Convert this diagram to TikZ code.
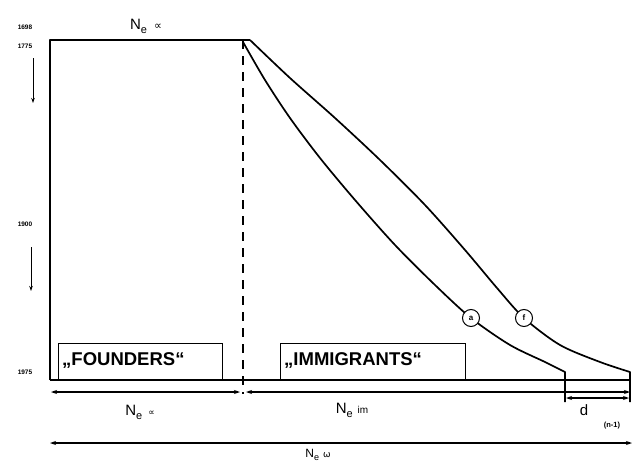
\documentclass[tikz,border=0pt]{standalone}
\usepackage{fontspec}
\setmainfont{Liberation Sans}
\newfontfamily\dvs{DejaVu Sans}
\usetikzlibrary{arrows.meta}
\begin{document}
\begin{tikzpicture}[x=1pt,y=-1pt,
  main/.style={line width=2pt, line join=round},
  curve/.style={line width=1.7pt, line join=round},
  boxline/.style={line width=1pt},
  dimarrow/.style={line width=1.3pt,{Stealth[length=6pt,width=4pt]}-{Stealth[length=6pt,width=4pt]}},
  yeararrow/.style={line width=0.9pt,-{Stealth[length=5pt,width=3.5pt]}},
  lbl/.style={font=\fontsize{15}{17}\selectfont, inner sep=0pt},
  boxtext/.style={font=\fontsize{18.5}{20}\selectfont\bfseries, inner sep=0pt, anchor=west},
  year/.style={font=\fontsize{6.5}{7}\selectfont\bfseries, inner sep=0pt},
  circmark/.style={circle, draw, fill=white, line width=1pt, minimum size=17pt, inner sep=0pt, font=\fontsize{8}{9}\selectfont\bfseries}]
\useasboundingbox (0,0) rectangle (632,463);
% corners
\coordinate (TL) at (50,40);
\coordinate (TR) at (250,40);
\coordinate (BL) at (50,380);
\coordinate (BR) at (630,380);
\coordinate (DT) at (243,40);
\coordinate (DB) at (243,394);
% frame
\draw[main] (BL) -- (TL) -- (TR);
\draw[main] (BL) -- (BR);
\draw[line width=1.2pt, dash pattern=on 9pt off 7pt] (DT) -- (DB);
% boxes
\draw[boxline] (58,380) -- (58,343) -- (222,343) -- (222,380);
\draw[boxline] (280,380) -- (280,343) -- (465,343) -- (465,380);
\node[boxtext] (fnd) at (62,360) {„FOUNDERS“};
\node[boxtext] (imm) at (284,360) {„IMMIGRANTS“};
% curves
\draw[curve] plot[smooth] coordinates {(243,42) (265,80) (290,118) (320,158) (355,200) (395,245) (435,285) (471,318) (510,345) (545,362) (565,372)} -- (565,402);
\draw[curve] plot[smooth] coordinates {(250,40) (290,78) (335,118) (380,160) (425,205) (465,250) (497,288) (524,318) (560,345) (600,362) (630,372)} -- (630,402);
\node[circmark] (ca) at (471,318) {a};
\node[circmark] (cf) at (524,318) {f};
% top label
\node[lbl] (ntop) at (146,26) {N\raisebox{-4pt}{\fontsize{11}{12}\selectfont e}\hspace{7pt}{\dvs\fontsize{11}{12}\selectfont ∝}};
% year labels
\node[year] (y1) at (25,27) {1698};
\node[year] (y2) at (25,46) {1775};
\node[year] (y3) at (25,224) {1900};
\node[year] (y4) at (25,372) {1975};
\coordinate (a1s) at (33,58);
\coordinate (a1e) at (33,103);
\coordinate (a2s) at (31,247);
\coordinate (a2e) at (31,291);
\draw[yeararrow] (a1s) -- (a1e);
\draw[yeararrow] (a2s) -- (a2e);
% dimension arrows
\coordinate (n1l) at (51,392);
\coordinate (n1r) at (240,392);
\coordinate (n2l) at (246,392);
\coordinate (n2r) at (630,392);
\draw[dimarrow] (n1l) -- (n1r);
\draw[dimarrow] (n2l) -- (n2r);
\coordinate (dl) at (566,398);
\coordinate (dr) at (629,398);
\draw[dimarrow] (dl) -- (dr);
\coordinate (wl) at (50,443);
\coordinate (wr) at (632,443);
\draw[dimarrow] (wl) -- (wr);
% bottom labels
\node[lbl] (nalpha) at (140,412) {N\raisebox{-4pt}{\fontsize{11}{12}\selectfont e}\hspace{6pt}{\dvs\fontsize{9}{10}\selectfont ∝}};
\node[lbl] (nim) at (352,410) {N\raisebox{-4pt}{\fontsize{11}{12}\selectfont e}\hspace{5pt}{\fontsize{10}{11}\selectfont im}};
\node[lbl] (dlab) at (584,410) {d};
\node[font=\fontsize{7.5}{8}\selectfont\bfseries, inner sep=0pt] (dsub) at (612,426) {(n-1)};
\node[font=\fontsize{12}{13}\selectfont, inner sep=0pt, anchor=north] (nomega) at (318,449) {N\raisebox{-3pt}{\fontsize{9}{10}\selectfont e}\hspace{4pt}{\dvs\fontsize{9}{10}\selectfont ω}};
\end{tikzpicture}
\end{document}
